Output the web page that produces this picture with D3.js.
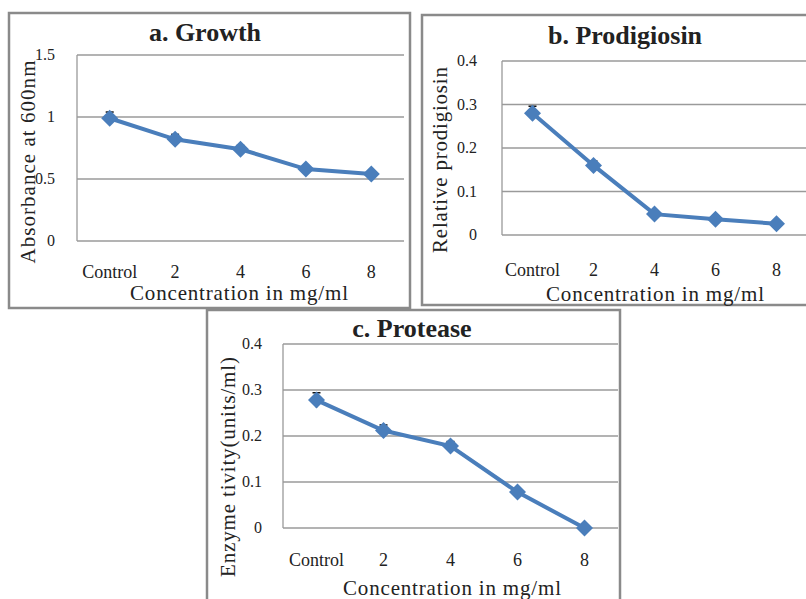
<!DOCTYPE html>
<html>
<head>
<meta charset="utf-8">
<script src="https://cdn.jsdelivr.net/npm/d3@7"></script>
<style>
  body { margin: 0; background: #fff; }
  text { font-family: "Liberation Serif", "Times New Roman", serif; fill: #222; }
</style>
</head>
<body>
<svg id="the-svg" width="806" height="599"></svg>
<script>
var categories = ["Control", "2", "4", "6", "8"];

var growthValues = [0.99, 0.82, 0.74, 0.58, 0.54];
var growthErrors = [0.05, 0.04, 0.03, 0.02, 0.02];
var growthTicks = [0, 0.5, 1, 1.5];

var prodigiosinValues = [0.28, 0.16, 0.048, 0.036, 0.026];
var prodigiosinErrors = [0.016, 0.01, 0.005, 0.005, 0.004];
var proteaseValues = [0.278, 0.212, 0.178, 0.078, 0.0];
var proteaseErrors = [0.016, 0.012, 0.01, 0.006, 0.003];
var smallTicks = [0, 0.1, 0.2, 0.3, 0.4];

var svg = d3.select("#the-svg");

var drawPanel = function(p) {
    var g = svg.append("g");
    g.append("rect")
        .attr("x", p.box[0]).attr("y", p.box[1])
        .attr("width", p.box[2]).attr("height", p.box[3])
        .attr("fill", "#fff")
        .attr("stroke", "#8a8a8a")
        .attr("stroke-width", 2.5);

    var x = d3.scaleBand().domain(categories).range([p.left, p.right]);
    var y = d3.scaleLinear().domain([0, p.max]).range([p.bottom, p.top]);

    // gridlines
    g.selectAll(".grid").data(p.ticks).enter().append("line")
        .attr("x1", p.left).attr("x2", p.right)
        .attr("y1", function(d) { return y(d); })
        .attr("y2", function(d) { return y(d); })
        .attr("stroke", "#9a9a9a").attr("stroke-width", 1.3);
    g.append("line")
        .attr("x1", p.left).attr("x2", p.left)
        .attr("y1", p.top).attr("y2", p.bottom)
        .attr("stroke", "#9a9a9a").attr("stroke-width", 1.3);

    // y tick labels
    g.selectAll(".ytick").data(p.ticks).enter().append("text")
        .attr("x", p.left - p.tickGap)
        .attr("y", function(d) { return y(d) + 5; })
        .attr("text-anchor", "end")
        .attr("font-size", 16)
        .text(function(d) { return d; });

    // x tick labels
    g.selectAll(".xtick").data(categories).enter().append("text")
        .attr("x", function(d) { return x(d) + x.bandwidth() / 2; })
        .attr("y", p.xTickY)
        .attr("text-anchor", "middle")
        .attr("font-size", 18)
        .attr("fill", "#333")
        .text(function(d) { return d; });

    var cx = function(d, i) { return x(categories[i]) + x.bandwidth() / 2; };

    // error bars
    var eb = g.selectAll(".err").data(p.values).enter().append("g");
    eb.append("line")
        .attr("x1", cx).attr("x2", cx)
        .attr("y1", function(d, i) { return y(d + p.errors[i]); })
        .attr("y2", function(d, i) { return y(Math.max(0, d - p.errors[i])); })
        .attr("stroke", "#111").attr("stroke-width", 1.5);
    eb.append("line")
        .attr("x1", function(d, i) { return cx(d, i) - 4; })
        .attr("x2", function(d, i) { return cx(d, i) + 4; })
        .attr("y1", function(d, i) { return y(d + p.errors[i]); })
        .attr("y2", function(d, i) { return y(d + p.errors[i]); })
        .attr("stroke", "#111").attr("stroke-width", 1.5);

    var line = d3.line()
        .x(function(d, i) { return cx(d, i); })
        .y(function(d) { return y(d); });
    g.append("path")
        .datum(p.values)
        .attr("d", line)
        .attr("fill", "none")
        .attr("stroke", "#4a7ebb")
        .attr("stroke-width", 4);

    g.selectAll(".marker").data(p.values).enter().append("path")
        .attr("d", "M0,-8.5L8.5,0L0,8.5L-8.5,0Z")
        .attr("transform", function(d, i) {
            return "translate(" + cx(d, i) + "," + y(d) + ")";
        })
        .attr("fill", "#4a7ebb");

    g.append("text")
        .attr("x", p.titleX).attr("y", p.titleY)
        .attr("text-anchor", "middle")
        .attr("font-size", 26)
        .attr("font-weight", "bold")
        .attr("fill", "#111")
        .text(p.title);

    g.append("text")
        .attr("transform", "translate(" + p.yLabelX + "," + p.yLabelY + ") rotate(-90)")
        .attr("text-anchor", "middle")
        .attr("font-size", 21)
        .attr("textLength", p.yLabelLen)
        .attr("lengthAdjust", "spacing")
        .attr("fill", "#111")
        .text(p.yLabel);

    g.append("text")
        .attr("x", p.xLabelX).attr("y", p.xLabelY)
        .attr("text-anchor", "middle")
        .attr("font-size", 21)
        .attr("textLength", 218)
        .attr("lengthAdjust", "spacing")
        .attr("fill", "#111")
        .text("Concentration in mg/ml");
};

drawPanel({
    box: [9, 13, 401, 295],
    left: 77, right: 404, top: 55, bottom: 241, max: 1.5,
    ticks: growthTicks, tickGap: 22,
    values: growthValues, errors: growthErrors,
    xTickY: 278,
    title: "a. Growth", titleX: 205, titleY: 41,
    yLabel: "Absorbance at 600nm", yLabelX: 35, yLabelY: 162, yLabelLen: 203,
    xLabelX: 239, xLabelY: 300
});

drawPanel({
    box: [422, 15, 400, 290],
    left: 502, right: 807, top: 61, bottom: 235, max: 0.4,
    ticks: smallTicks, tickGap: 25,
    values: prodigiosinValues, errors: prodigiosinErrors,
    xTickY: 276,
    title: "b. Prodigiosin", titleX: 625, titleY: 44,
    yLabel: "Relative prodigiosin", yLabelX: 447, yLabelY: 160, yLabelLen: 186,
    xLabelX: 655, xLabelY: 301
});

drawPanel({
    box: [207, 310, 413, 300],
    left: 283, right: 618, top: 344, bottom: 528, max: 0.4,
    ticks: smallTicks, tickGap: 21,
    values: proteaseValues, errors: proteaseErrors,
    xTickY: 566,
    title: "c. Protease", titleX: 412, titleY: 337,
    yLabel: "Enzyme tivity(units/ml)", yLabelX: 235, yLabelY: 467, yLabelLen: 220,
    xLabelX: 452, xLabelY: 595
});
</script>
</body>
</html>
